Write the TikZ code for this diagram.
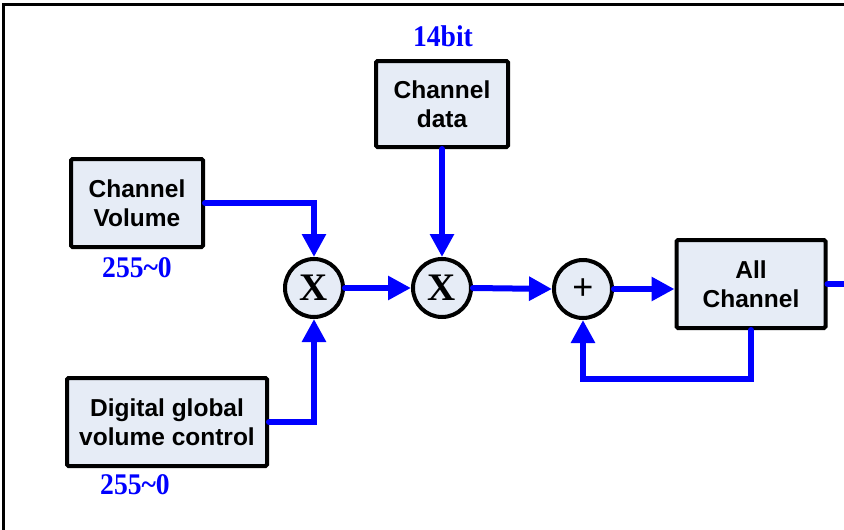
\documentclass[tikz,border=0pt]{standalone}
\usepackage{fontspec}
\setmainfont{Liberation Sans}
\newfontfamily\serifbold{Liberation Serif}[BoldFont={Liberation Serif Bold}]
\usetikzlibrary{arrows.meta}
\definecolor{boxfill}{RGB}{230,236,246}
\definecolor{sigblue}{RGB}{0,0,255}
\tikzset{
  blockbox/.style={draw=black, line width=4pt, fill=boxfill, rounded corners=1.5pt,
    align=center, inner sep=0pt,
    font=\fontsize{24.5}{29.5}\selectfont\bfseries},
  opcircle/.style={draw=black, line width=4pt, fill=boxfill, circle,
    minimum size=58pt, inner sep=0pt},
  sigline/.style={draw=sigblue, line width=6pt, line cap=round},
  sig/.style={sigline, -{Triangle[length=23pt, width=23pt]}},
  rangelabel/.style={text=sigblue, inner sep=0pt,
    font=\serifbold\fontsize{30}{30}\selectfont\bfseries},
  mullabel/.style={font=\serifbold\fontsize{39}{39}\selectfont\bfseries},
}
\begin{document}
\begin{tikzpicture}[x=1pt, y=-1pt]
  \useasboundingbox (0,0) rectangle (844,530);
  % outer frame (top and left edges)
  \draw[line width=3pt] (3,530) -- (3,4) -- (844,4);

  % input blocks
  \node[blockbox, minimum width=132pt, minimum height=88pt] (cv) at (137,203) {Channel\\Volume};
  \node[blockbox, minimum width=200pt, minimum height=88pt] (dg) at (167,422) {Digital global\\volume control};
  \node[blockbox, minimum width=132pt, minimum height=86pt] (cd) at (442,104) {Channel\\data};
  \node[blockbox, minimum width=149pt, minimum height=88pt] (ac) at (751,284) {All\\Channel};

  % operators
  \node[opcircle] (m1) at (314,288) {};
  \node[mullabel] at (m1) {X};
  \node[opcircle] (m2) at (442,288) {};
  \node[mullabel] at (m2) {X};
  \node[opcircle] (add) at (583,289) {};
  \node[font=\fontsize{36}{36}\selectfont] at (add) {+};

  % range / width annotations
  \node[rangelabel] (lcv) at (137,268) {\scalebox{0.92}[1]{255\textasciitilde0}};
  \node[rangelabel] (ldg) at (135,485) {\scalebox{0.92}[1]{255\textasciitilde0}};
  \node[rangelabel] (lcd) at (443,36) {\scalebox{0.92}[1]{14bit}};

  % signal paths
  \draw[sig] (cv.east) -| (m1.north);
  \draw[sig] (dg.east) -| (m1.south);
  \draw[sig] (cd.south) -- (m2.north);
  \draw[sig] (m1.east) -- (m2.west);
  \draw[sig] (m2.east) -- (add.west);
  \draw[sig] (add.east) -- (add.east -| ac.west);
  \draw[sig] (ac.south) -- ++(0,49) -| (add.south);
  \coordinate (out) at (846,284);
  \draw[sigline] (ac.east) -- (out);
\end{tikzpicture}
\end{document}
